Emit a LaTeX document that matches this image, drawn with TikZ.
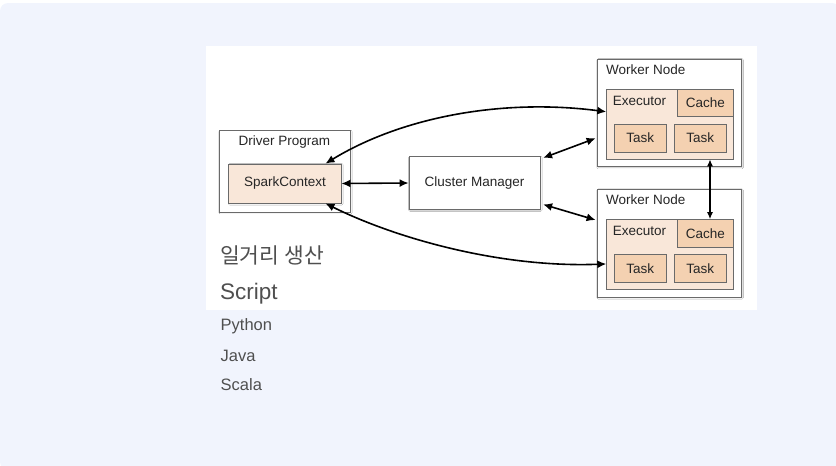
\documentclass[tikz,border=0pt]{standalone}
\usepackage{fontspec}
\setmainfont{Liberation Sans}
\newfontfamily\krfont{Noto Sans CJK KR}
\usepackage{tikz}
\usetikzlibrary{
    arrows.meta,
    positioning,
    shadows.blur,
}

\definecolor{pagebg}{HTML}{F1F4FD}
\definecolor{lightpeach}{HTML}{F9E7D9}
\definecolor{darkpeach}{HTML}{F4D1B1}
\definecolor{boxline}{HTML}{6A6A6A}
\definecolor{textgray}{HTML}{4F4F4F}

\begin{document}
\begin{tikzpicture}[
    x=1pt, y=-1pt,
    >={Latex[length=9pt,width=8pt]},
    box/.style={draw=boxline, line width=0.8pt, fill=white, minimum width=#1,
        blur shadow={shadow blur steps=4, shadow xshift=0.8pt, shadow yshift=-0.8pt, shadow blur radius=1.2pt, shadow opacity=25}},
    box/.default=10pt,
    peach/.style={draw=boxline, line width=0.8pt, fill=darkpeach, inner sep=0pt},
    lbl/.style={font=\fontsize{13.5}{15}\selectfont, text=black!85, inner sep=0pt},
    link/.style={<->, line width=1.6pt},
    side/.style={anchor=west, inner sep=0pt, text=textgray},
    ]

% page
\useasboundingbox (0,0) rectangle (836,466);
\fill[pagebg, rounded corners=8pt] (0,3) rectangle (840,470);
\fill[white] (206,46) rectangle (757,310);

% driver
\node[box=130.7pt, minimum height=81.3pt] at (284.7,171.3) (driver) {};
\node[lbl] at (284.5,141.7) (drivertitle) {Driver Program};
\node[box=112.3pt, minimum height=39pt, fill=lightpeach, lbl, draw=boxline] at (284.9,183.5) (spark) {SparkContext};

% cluster manager
\node[box=131pt, minimum height=52.6pt, lbl, draw=boxline] at (474.5,183) (cluster) {Cluster Manager};

% worker nodes
\foreach \i/\dy in {1/0, 2/130.3} {
    \node[box=144pt, minimum height=107.7pt] at (669.3,112.9+\dy) (worker\i) {};
    \node[lbl, anchor=west] at (606,69.3+\dy) (workertitle\i) {Worker Node};
    \node[draw=boxline, line width=0.8pt, fill=lightpeach, minimum width=126.3pt, minimum height=69.7pt, inner sep=0pt] at (669.85,124.15+\dy) (exec\i) {};
    \node[peach, minimum width=55.3pt, minimum height=27.4pt, lbl, draw=boxline] at (705.35,103+\dy) (cache\i) {Cache};
    \node[lbl, anchor=west] at (612.7,100.7+\dy) (execlabel\i) {Executor};
    \node[peach, minimum width=52pt, minimum height=27.7pt, lbl, draw=boxline] at (640.3,138.15+\dy) (taska\i) {Task};
    \node[peach, minimum width=52.7pt, minimum height=27.7pt, lbl, draw=boxline] at (700.35,138.15+\dy) (taskb\i) {Task};
}

% connectors
\draw[link] (spark.east) -- (cluster.west);
\draw[link] ([xshift=-16pt]spark.north east) .. controls (400,118) and (500,98) .. ([yshift=12.4pt]exec1.west);
\draw[link] ([xshift=-16pt]spark.south east) .. controls (395,238) and (500,268) .. ([yshift=-9.5pt]exec2.west);
\draw[link] ([xshift=2.7pt,yshift=-1.6pt]cluster.north east) -- ([xshift=-1.3pt,yshift=-25.4pt]worker1.west);
\draw[link] ([xshift=2.7pt,yshift=5.3pt]cluster.south east) -- ([xshift=-1.3pt,yshift=23.2pt]worker2.west);
\draw[<->, line width=1.2pt, >={Latex[length=7pt,width=6pt]}] ([xshift=40.15pt]exec1.south) -- ([xshift=4.65pt]cache2.north);

% text below
\node[side, font=\krfont\fontsize{21.5}{24}\selectfont] at (220,255) (korean) {일거리 생산};
\node[side, font=\fontsize{22.5}{26}\selectfont] at (220,293.5) (script) {Script};
\node[side, font=\fontsize{16.5}{19}\selectfont] at (220.5,326.5) (python) {Python};
\node[side, font=\fontsize{16.5}{19}\selectfont] at (220.5,356) (java) {Java};
\node[side, font=\fontsize{16.5}{19}\selectfont] at (220.5,384.5) (scala) {Scala};

\end{tikzpicture}
\end{document}
